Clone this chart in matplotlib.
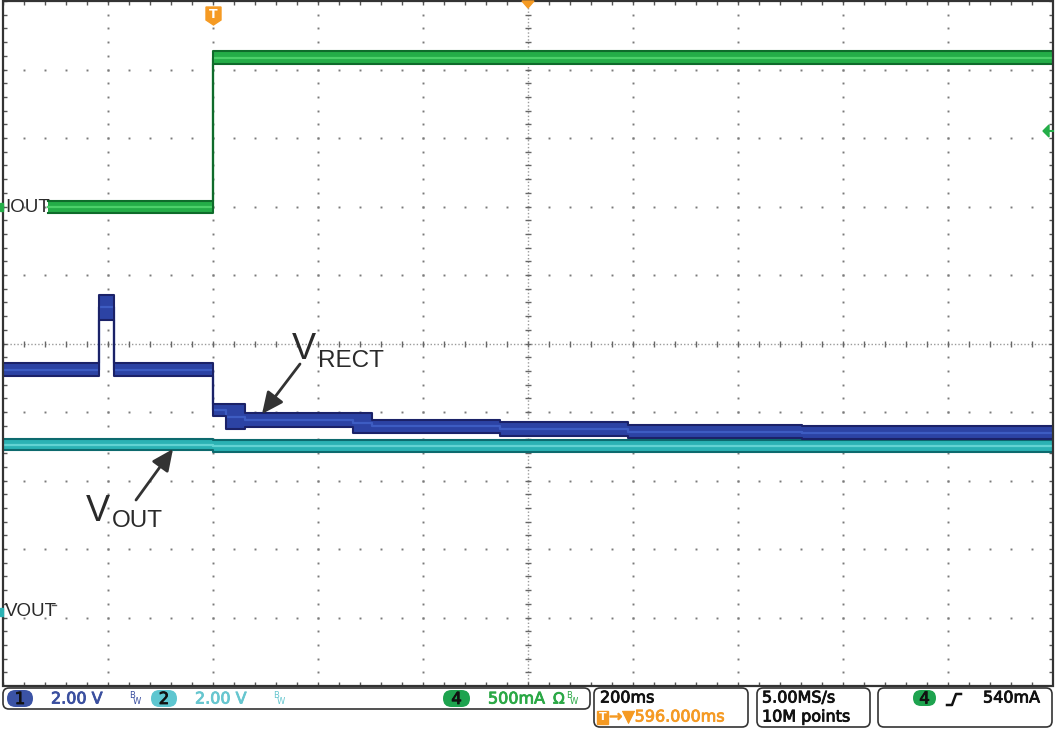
import matplotlib
matplotlib.use("Agg")
import matplotlib.pyplot as plt
import matplotlib.patheffects as pe
from matplotlib.patches import FancyBboxPatch, Polygon, Rectangle
import numpy as np

# ---------------- data ----------------
t_window = [-400, 1600]          # ms, 200 ms/div, trigger at 0 ms
ms_per_div = 200
volts_per_div = 2.0               # CH1 / CH2
amps_per_div = 0.5                # CH4
vout_ground_div = 1.08            # ground reference (divisions from bottom)
iout_ground_div = 6.99

# VRECT envelope (V), piecewise from each time (ms)
vrect_t = [-400, -217, -189, 0, 25, 60, 267, 303, 547, 790, 1122, 1600]
vrect_hi = [7.27, 9.26, 7.27, 6.07, 6.07, 5.81, 5.81, 5.61, 5.55, 5.46, 5.43, 5.43]
vrect_lo = [6.89, 8.53, 6.89, 5.72, 5.34, 5.40, 5.23, 5.23, 5.14, 5.08, 5.05, 5.05]

# VOUT envelope (V)
vout_t = [-400, 0, 1600]
vout_hi = [5.05, 5.02, 5.02]
vout_lo = [4.73, 4.67, 4.67]

# IOUT envelope (A)
iout_t = [-314, 0, 1600]
iout_hi = [0.044, 1.139, 1.139]
iout_lo = [-0.044, 1.044, 1.044]

# ---------------- figure ----------------
W, H = 1055, 731
fig = plt.figure(figsize=(W / 100, H / 100), dpi=100)
fig.patch.set_facecolor("white")

ax = fig.add_axes([3 / W, 45 / H, 1050 / W, 685 / H])
ax.set_xlim(*t_window)
ax.set_ylim(0, 10)
ax.axis("off")

grid_c = "#7a7a7a"
x_major = np.arange(t_window[0], t_window[1] + 1, ms_per_div)
x_minor = np.arange(t_window[0], t_window[1] + 1, ms_per_div / 5)
y_minor = np.arange(0, 10.001, 0.2)
x_center = (t_window[0] + t_window[1]) / 2

for gx in x_major[1:-1]:
    if gx == x_center:
        continue
    ax.plot(np.full_like(y_minor, gx), y_minor, ls="none", marker="s", ms=1.4,
            color=grid_c, mec="none", zorder=1)
for gy in range(1, 10):
    if gy == 5:
        continue
    ax.plot(x_minor, np.full_like(x_minor, gy, dtype=float), ls="none", marker="s",
            ms=1.4, color=grid_c, mec="none", zorder=1)
# center cross
ax.plot([x_center, x_center], [0, 10], ls=(0, (1, 1.5)), lw=1, color="#9a9a9a", zorder=1)
ax.plot(t_window, [5, 5], ls=(0, (1, 1.5)), lw=1, color="#9a9a9a", zorder=1)
ax.plot(np.full_like(y_minor, x_center), y_minor, ls="none", marker="_", ms=5,
        mew=1, color="#666666", zorder=1)
ax.plot(x_minor, np.full_like(x_minor, 5.0, dtype=float), ls="none", marker="|", ms=5,
        mew=1, color="#666666", zorder=1)
# edge ticks
for yy in (0, 10):
    ax.plot(x_minor, np.full_like(x_minor, yy, dtype=float), ls="none", marker="|",
            ms=6, mew=1, color="#555555", zorder=1)
for xx in t_window:
    ax.plot(np.full_like(y_minor, xx), y_minor, ls="none", marker="_", ms=6,
            mew=1, color="#555555", zorder=1)
ax.add_patch(Rectangle((0, 0), 1, 1, transform=ax.transAxes, fill=False,
                       ec="#333333", lw=1.6, clip_on=False, zorder=10))


def band(t, hi, lo, ground, scale, fill, edge, light, z):
    t = np.asarray(t, float)
    yh = ground + np.asarray(hi) / scale
    yl = ground + np.asarray(lo) / scale
    ax.fill_between(t, yl, yh, step="post", color=fill, lw=0, zorder=z)
    ym = (yh + yl) / 2
    ax.step(t, ym, where="post", color=light, lw=1.6, zorder=z + 0.1)
    ax.step(t, yh, where="post", color=edge, lw=1.5, zorder=z + 0.2)
    ax.step(t, yl, where="post", color=edge, lw=1.5, zorder=z + 0.2)


band(vout_t, vout_hi, vout_lo, vout_ground_div, volts_per_div,
     "#2bb2b4", "#0d6a6e", "#62d3d3", 3)
band(vrect_t, vrect_hi, vrect_lo, vout_ground_div, volts_per_div,
     "#2c43a4", "#1b2268", "#3d5cc2", 4)
band(iout_t, iout_hi, iout_lo, iout_ground_div, amps_per_div,
     "#24ad48", "#0f6b2b", "#4cd06a", 5)

# ---------------- overlay (pixel coordinates) ----------------
ov = fig.add_axes([0, 0, 1, 1], zorder=20)
ov.set_xlim(0, W)
ov.set_ylim(H, 0)
ov.axis("off")
ov.patch.set_alpha(0)

lab = dict(family="Liberation Sans", color="#2a2a2a")
ov.text(5, 207, "IOUT", fontsize=13.5, va="center", ha="left", **lab)
ov.text(5, 612, "VOUT", fontsize=13.5, va="center", ha="left", **lab)
ov.plot([52, 56], [605, 605], color="#555555", lw=1)
ov.add_patch(Rectangle((0, 203), 3, 8, color="#24ad48"))
ov.add_patch(Rectangle((0, 608), 3, 8, color="#2bb2b4"))

# annotations
ov.text(292, 359, "V", fontsize=26, ha="left", va="baseline", **lab)
ov.text(318, 367, "RECT", fontsize=17.5, ha="left", va="baseline", **lab)
ov.text(86, 521, "V", fontsize=26, ha="left", va="baseline", **lab)
ov.text(112, 527, "OUT", fontsize=17.5, ha="left", va="baseline", **lab)
arrow = dict(arrowstyle="-|>,head_length=1.3,head_width=0.6", color="#333333",
             lw=2, shrinkA=0, shrinkB=0)
ov.annotate("", xy=(262, 414), xytext=(300, 364), arrowprops=arrow)
ov.annotate("", xy=(173, 449), xytext=(136, 500), arrowprops=arrow)

# top markers
orange = "#f59a23"
ov.add_patch(Polygon([(206, 7), (221, 7), (221, 20), (213.5, 25), (206, 20)],
                     closed=True, color=orange, zorder=5))
ov.text(213.5, 14.5, "T", fontsize=9, color="white", ha="center", va="center",
        fontweight="bold", zorder=6)
ov.add_patch(Polygon([(522, 1), (534, 1), (528, 8)], closed=True, color=orange))
# trigger level marker (right)
ov.add_patch(Polygon([(1043, 131), (1049, 125), (1049, 137)], closed=True, color="#24ad48"))
ov.plot([1048, 1053], [131, 131], color="#24ad48", lw=1.5)

# ---------------- status bar ----------------
def box(x, y, w, h, r=6):
    ov.add_patch(FancyBboxPatch((x, y), w, h, boxstyle=f"round,pad=0,rounding_size={r}",
                                fc="white", ec="#333333", lw=1.2))


def bold(c):
    return [pe.withStroke(linewidth=0.6, foreground=c)]


def pill(x, y, w, h, fc, label):
    ov.add_patch(FancyBboxPatch((x, y), w, h, boxstyle=f"round,pad=0,rounding_size={h/2}",
                                fc=fc, ec="none"))
    ov.text(x + w / 2, y + h / 2 + 0.5, label, fontsize=12, color="#111111",
            ha="center", va="center", family="DejaVu Sans", path_effects=bold("#111111"))


def stext(x, y, s, c, size=11.5):
    ov.text(x, y, s, color=c, family="DejaVu Sans", fontsize=size, va="center",
            ha="left", path_effects=bold(c))


box(3, 688, 587, 21)
box(594, 688, 154, 39)
box(757, 688, 113, 39)
box(878, 688, 174, 39)

c1, c2, c4 = "#3a4f9f", "#66c6cf", "#1ea34f"
pill(7, 690, 26, 17, "#3b53a5", "1")
stext(51, 699, "2.00 V", c1)
ov.text(129, 695, "B", fontsize=6, color=c1, ha="left", va="center")
ov.text(133, 701, "W", fontsize=6, color=c1, ha="left", va="center")
pill(151, 690, 26, 17, "#5ec6d0", "2")
stext(195, 699, "2.00 V", c2)
ov.text(273, 695, "B", fontsize=6, color=c2, ha="left", va="center")
ov.text(277, 701, "W", fontsize=6, color=c2, ha="left", va="center")
pill(443, 690, 27, 17, c4, "4")
stext(488, 699, "500mA", "#2aa845")
stext(553, 699, "Ω", "#2aa845", 11)
ov.text(566, 695, "B", fontsize=6, color="#2aa845", ha="left", va="center")
ov.text(570, 701, "W", fontsize=6, color="#2aa845", ha="left", va="center")

stext(600, 698, "200ms", "#111111")
ov.add_patch(Rectangle((597, 711), 11, 13, color=orange))
ov.text(602.5, 717.5, "T", fontsize=8, color="white", ha="center", va="center",
        fontweight="bold")
stext(609, 717, "→▼596.000ms", orange)

stext(762, 698, "5.00MS/s", "#111111")
stext(762, 717, "10M points", "#111111")

pill(913, 690, 23, 16, c4, "4")
ov.plot([947, 952, 956, 961], [705, 705, 694, 694], color="#111111", lw=1.8)
stext(983, 698, "540mA", "#111111")

fig.savefig("out.png", dpi=100, facecolor="white")
